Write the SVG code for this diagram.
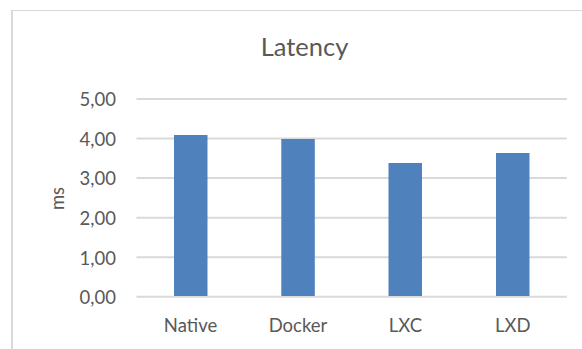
<svg xmlns="http://www.w3.org/2000/svg" width="582" height="349" viewBox="0 0 582 349">
  <style>
    text { font-family: Lato, "Liberation Sans", sans-serif; fill: #595959; }
    .title { font-size: 25.5px; text-anchor: middle; }
    .ytick { font-size: 18.5px; text-anchor: end; }
    .xtick { font-size: 18.5px; text-anchor: middle; }
    .axis { font-size: 18.5px; text-anchor: middle; }
    .grid { stroke: #d9d9d9; stroke-width: 2; fill: none; }
    .bar { fill: #4f81bd; }
    .frame { stroke: #d9d9d9; fill: none; }
  </style>
  <rect x="0" y="0" width="582" height="349" fill="#ffffff"/>
  <g id="frame">
    <line class="frame" x1="11.5" y1="10.5" x2="582" y2="10.5" stroke-width="1"/>
    <line class="frame" x1="12" y1="10" x2="12" y2="349" stroke-width="2"/>
  </g>
  <g id="title">
    <text class="title" x="304.5" y="56">Latency</text>
  </g>
  <g id="gridlines">
    <line class="grid" x1="136.5" y1="99" x2="566.8" y2="99"/>
    <line class="grid" x1="136.5" y1="138.5" x2="566.8" y2="138.5"/>
    <line class="grid" x1="136.5" y1="178" x2="566.8" y2="178"/>
    <line class="grid" x1="136.5" y1="217.7" x2="566.8" y2="217.7"/>
    <line class="grid" x1="136.5" y1="257.2" x2="566.8" y2="257.2"/>
    <line class="grid" x1="136.5" y1="296.7" x2="566.8" y2="296.7"/>
  </g>
  <g id="y-axis">
    <text class="ytick" x="116" y="106.3">5,00</text>
    <text class="ytick" x="116" y="145.8">4,00</text>
    <text class="ytick" x="116" y="185.3">3,00</text>
    <text class="ytick" x="116" y="225">2,00</text>
    <text class="ytick" x="116" y="264.5">1,00</text>
    <text class="ytick" x="116" y="304">0,00</text>
    <text class="axis" transform="translate(63.5,198.5) rotate(-90)">ms</text>
  </g>
  <g id="bar-native">
    <rect class="bar" x="174" y="135" width="33.5" height="161"/>
    <text class="xtick" x="190.5" y="331.5">Native</text>
  </g>
  <g id="bar-docker">
    <rect class="bar" x="281.3" y="139" width="33.5" height="157"/>
    <text class="xtick" x="298" y="331.5">Docker</text>
  </g>
  <g id="bar-lxc">
    <rect class="bar" x="388.5" y="163" width="33.5" height="133"/>
    <text class="xtick" x="405.5" y="331.5">LXC</text>
  </g>
  <g id="bar-lxd">
    <rect class="bar" x="496" y="153" width="33.5" height="143"/>
    <text class="xtick" x="512.8" y="331.5">LXD</text>
  </g>
</svg>
